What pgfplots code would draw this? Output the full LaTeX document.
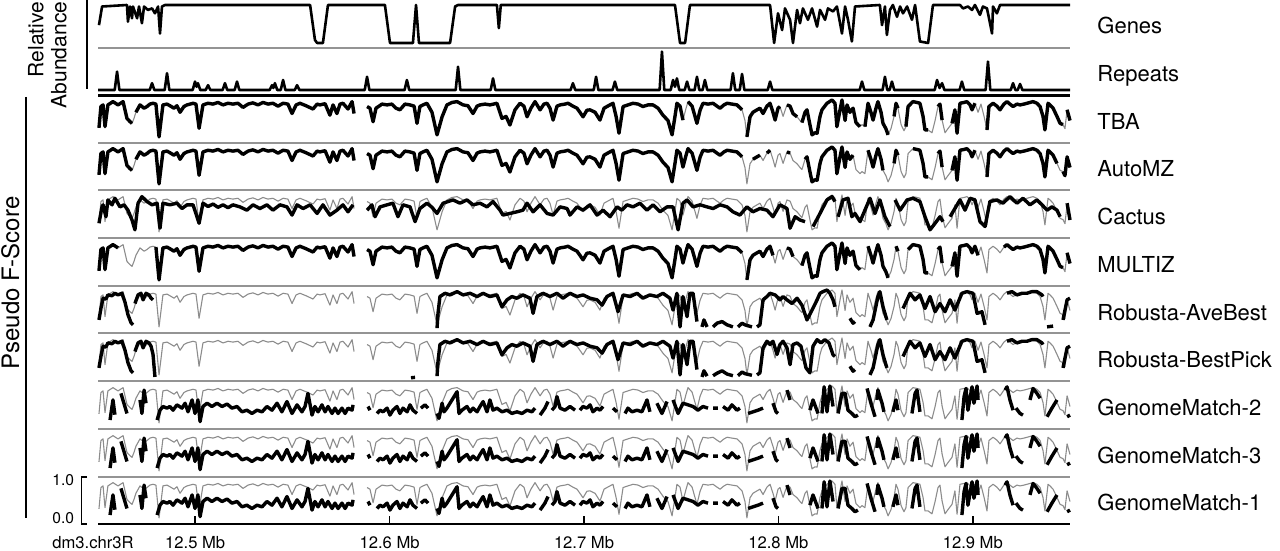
\documentclass[border=0pt]{standalone}
\usepackage{fontspec}
\setmainfont{TeX Gyre Heros}
\usepackage{pgfplots}
\usepackage{pgfplotstable}
\pgfplotsset{compat=1.18}
\definecolor{sepc}{gray}{0.58}
\definecolor{grl}{gray}{0.55}
\pgfplotsset{
  trk/.style={anchor=south west, width=486pt, scale only axis,
    xmin=0, xmax=500, ymin=0, ymax=1, hide axis, clip=false,
    unbounded coords=jump},
  keep/.style={restrict expr to domain={\thisrow{#1}}{0.5:1.5}},
  grayline/.style={grl, line width=0.55pt, line join=round},
  blackline/.style={black, line width=1.7pt, line join=round},
}
% Genes (relative abundance), x in kb from 12.45 Mb
\pgfplotstableread{
x v
0.5 0.47
2.1 0.96
14.9 1.00
15.4 0.56
16.5 0.96
17.5 0.65
18.0 0.96
20.1 0.65
21.1 0.96
22.6 0.52
23.7 0.96
25.7 0.87
27.8 0.91
29.3 0.78
30.9 0.96
31.9 0.25
32.9 0.96
34.5 1.00
109.1 1.00
111.6 0.08
112.7 0.00
115.7 0.00
118.3 1.00
147.6 1.00
150.2 0.00
162.0 0.00
163.6 1.00
165.1 0.00
181.1 0.00
183.7 0.96
185.2 1.00
205.2 1.00
206.2 0.39
207.2 1.00
296.8 1.00
299.4 0.00
302.0 0.00
304.5 1.00
345.7 1.00
347.8 0.00
349.8 0.78
351.9 0.34
353.4 0.91
356.0 0.61
357.5 0.00
359.6 0.87
361.1 0.52
362.6 0.91
365.2 0.61
367.3 0.91
369.9 0.43
371.4 0.87
374.0 0.61
375.5 0.91
378.1 0.83
380.1 0.96
382.7 0.25
384.3 0.96
385.8 0.61
387.8 0.04
389.4 0.96
402.2 1.00
403.3 0.47
404.8 0.96
405.8 0.21
407.4 0.87
408.9 1.00
411.0 0.69
412.6 0.96
414.1 0.78
416.2 0.96
418.7 0.61
420.3 1.00
422.8 0.04
427.0 0.00
429.5 1.00
443.4 1.00
445.0 0.91
447.5 0.96
449.6 0.87
451.1 1.00
453.7 0.74
455.2 0.96
457.3 0.91
459.9 0.25
460.4 0.96
462.4 0.78
464.0 1.00
500.0 1.00
}\genes
% Repeats
\pgfplotstableread{
x v
0 0
8.6 0
9.8 0.46
11.0 0
26.6 0
27.8 0.17
29.0 0
34.3 0
35.5 0.42
36.7 0
48.7 0
49.9 0.21
50.7 0.08
51.4 0.17
52.6 0
55.4 0
56.6 0.12
57.8 0
64.1 0
65.3 0.17
66.5 0
70.3 0
71.5 0.21
72.7 0
88.3 0
89.5 0.12
90.2 0.05
91.0 0.17
92.2 0
94.0 0
95.2 0.25
96.4 0
101.2 0
102.4 0.12
103.6 0
137.2 0
138.4 0.33
139.6 0
157.7 0
158.9 0.25
160.1 0
184.0 0
185.2 0.58
186.4 0
202.0 0
203.2 0.29
204.4 0
243.1 0
244.3 0.17
245.5 0
255.0 0
256.2 0.33
257.4 0
264.7 0
265.9 0.21
267.1 0
288.9 0
290.1 0.96
291.3 0
294.6 0
295.8 0.25
296.8 0.08
297.8 0.29
299.0 0
301.8 0
303.0 0.21
304.2 0
306.9 0
308.1 0.33
309.3 0
311.0 0
312.2 0.25
313.4 0
325.4 0
326.6 0.42
327.8 0
330.1 0
331.3 0.40
332.5 0
344.5 0
345.7 0.21
346.9 0
391.8 0
393.0 0.21
394.2 0
403.6 0
404.8 0.33
406.0 0
407.2 0
408.4 0.21
409.6 0
430.4 0
431.6 0.25
432.9 0.05
434.2 0.17
435.4 0
443.2 0
444.4 0.21
445.6 0
456.6 0
457.8 0.71
459.0 0
469.5 0
470.7 0.17
471.9 0
473.1 0
474.3 0.15
475.5 0
500 0
}\repeats
% Common grey reference F-score; t,a,m = present in TBA, AutoMZ, MULTIZ
\pgfplotstableread{
x g t a m
0.5 0.32 1 1 1
1.5 0.84 1 1 1
2.6 0.88 1 1 1
3.6 0.35 1 1 1
5.1 0.88 1 1 1
7.7 0.96 1 1 1
10.3 0.88 1 1 1
12.9 0.96 1 1 0
14.9 0.55 1 1 0
16.5 0.47 1 1 0
17.5 0.43 1 1 0
18.5 0.55 0 0 0
19.5 0.70 1 1 0
21.6 0.88 1 1 0
23.7 0.80 1 1 0
25.2 0.84 1 1 0
26.7 0.90 1 1 0
28.3 0.92 1 1 0
29.8 0.90 1 1 1
31.4 0.10 1 1 1
33.4 0.88 1 1 1
35.5 0.90 1 1 1
37.0 0.86 1 1 1
39.1 0.80 1 1 1
40.6 0.86 1 1 1
42.2 0.70 1 1 1
44.2 0.84 1 1 1
45.8 0.88 1 1 1
48.9 0.92 1 1 1
50.4 0.90 1 1 1
52.0 0.31 1 1 1
54.0 0.88 1 1 1
56.6 0.92 1 1 1
59.2 0.90 1 1 1
61.7 0.94 1 1 1
64.3 0.88 1 1 1
66.9 0.92 1 1 1
69.4 0.90 1 1 1
72.0 0.92 1 1 1
74.6 0.82 1 1 1
77.2 0.90 1 1 1
79.7 0.93 1 1 1
82.3 0.88 1 1 1
84.9 0.94 1 1 1
87.4 0.90 1 1 1
90.0 0.92 1 1 1
92.6 0.85 1 1 1
95.2 0.92 1 1 1
97.7 0.90 1 1 1
99.8 0.67 1 1 1
101.9 0.88 1 1 1
103.9 0.92 1 1 1
107.0 0.86 1 1 1
110.6 0.78 1 1 1
112.7 0.90 1 1 1
114.2 0.88 1 1 1
116.8 0.91 1 1 1
119.3 0.63 1 1 1
120.9 0.88 1 1 1
122.9 0.67 1 1 1
124.5 0.90 1 1 1
126.0 0.92 1 1 1
128.6 0.78 1 1 1
130.7 0.96 1 1 1
131.7 0.67 1 1 1
135.0 nan 1 1 1
138.4 0.84 1 1 1
139.9 0.80 1 1 1
141.5 0.47 1 1 1
143.0 0.80 1 1 1
146.1 0.90 1 1 1
148.7 0.88 1 1 1
151.2 0.90 1 1 1
153.3 0.80 1 1 1
155.3 0.76 1 1 1
157.9 0.90 1 1 1
160.5 0.88 1 1 1
162.6 0.85 1 1 1
164.1 0.43 1 1 1
165.6 0.84 1 1 1
167.2 0.88 1 1 1
169.2 0.92 1 1 1
171.8 0.70 1 1 1
174.4 0.15 1 1 1
177.0 0.59 1 1 1
179.5 0.88 1 1 1
182.1 0.94 1 1 1
184.7 0.96 1 1 1
187.8 0.88 1 1 1
190.3 0.86 1 1 1
192.9 0.67 1 1 1
195.0 0.85 1 1 1
196.5 0.88 1 1 1
199.1 0.90 1 1 1
201.6 0.88 1 1 1
205.2 0.92 1 1 1
207.8 0.55 1 1 1
209.9 0.60 1 1 1
211.9 0.39 1 1 1
214.5 0.76 1 1 1
217.1 0.92 1 1 1
219.1 0.85 1 1 1
220.7 0.59 1 1 1
222.7 0.80 1 1 1
224.8 0.96 1 1 1
227.4 0.76 1 1 1
229.4 0.90 1 1 1
231.0 0.92 1 1 1
232.5 0.80 1 1 1
234.1 0.51 1 1 1
236.1 0.85 1 1 1
237.7 0.88 1 1 1
240.2 0.90 1 1 1
241.8 0.92 1 1 1
244.3 0.85 1 1 1
246.4 0.80 1 1 1
247.9 0.70 1 1 1
249.5 0.59 1 1 1
251.5 0.75 1 1 1
253.1 0.76 1 1 1
255.7 0.70 1 1 1
258.2 0.51 1 1 1
260.3 0.80 1 1 1
261.8 0.84 1 1 1
264.9 0.92 1 1 1
266.5 0.60 1 1 1
268.0 0.19 1 1 1
270.1 0.84 1 1 1
272.6 0.88 1 1 1
275.2 0.92 1 1 1
277.8 0.90 1 1 1
280.3 0.84 1 1 1
282.9 0.88 1 1 1
285.5 0.88 1 1 1
288.1 0.80 1 1 1
290.6 0.63 1 1 1
293.2 0.50 1 1 1
295.3 0.15 1 1 1
296.8 0.60 1 1 1
297.8 0.92 1 1 1
299.4 0.85 1 1 1
300.9 0.51 1 1 1
302.5 0.80 0 1 1
303.5 0.96 1 1 1
305.6 0.85 1 1 1
308.1 0.43 1 1 1
309.7 0.75 1 1 1
311.2 0.92 1 1 1
313.8 0.90 1 1 1
316.4 0.92 1 1 1
318.4 0.85 1 1 1
320.0 0.80 1 1 1
322.0 0.88 1 1 1
323.6 0.92 1 1 1
326.1 0.90 1 1 1
328.7 0.88 1 1 1
331.3 0.76 1 1 1
332.8 0.50 0 0 0
333.8 0.10 1 0 1
335.4 0.59 1 0 1
336.9 0.70 1 1 1
339.0 0.76 1 1 1
340.5 0.80 1 1 1
342.1 0.67 1 0 1
344.1 0.85 1 1 1
345.7 0.92 1 1 1
347.2 0.70 1 0 1
348.3 0.51 1 0 0
349.8 0.80 1 0 0
350.8 0.84 1 0 0
352.4 0.60 0 0 0
354.4 0.88 1 1 1
356.0 0.85 1 1 1
357.5 0.67 1 0 1
359.6 0.59 1 0 0
361.1 0.50 0 0 0
362.1 0.45 1 0 1
363.7 0.70 1 1 1
364.7 0.76 1 1 1
366.2 0.40 1 1 1
367.3 0.15 1 1 1
368.8 0.20 1 1 1
369.9 0.19 1 1 1
371.4 0.60 1 1 1
372.4 0.76 1 1 1
375.0 0.92 1 1 1
377.6 1.00 1 1 1
379.1 0.92 1 1 1
380.1 0.35 1 1 1
381.7 0.76 1 1 1
382.7 1.00 1 1 1
384.3 0.50 1 1 1
385.3 0.88 1 1 1
386.8 0.70 1 1 1
388.4 0.80 1 1 1
389.9 0.45 1 0 1
390.9 0.40 1 0 1
392.0 0.35 1 0 1
393.0 0.40 0 0 0
394.5 0.35 1 0 0
396.1 0.92 1 1 1
397.6 0.70 1 1 1
398.7 0.51 1 1 1
400.2 0.80 1 1 1
401.2 0.96 1 1 1
402.8 0.70 1 1 1
403.8 0.43 1 1 1
405.3 0.30 1 0 1
406.4 0.15 1 0 1
407.9 0.30 0 0 0
409.5 0.60 1 1 0
410.5 0.92 1 1 1
411.5 0.80 1 1 1
413.1 0.40 0 0 0
414.6 0.25 0 0 0
415.6 0.35 1 0 0
416.7 0.84 1 0 1
419.2 0.96 1 1 1
421.3 0.94 1 1 1
422.8 0.92 1 1 1
424.4 0.60 1 1 1
425.4 0.27 1 1 1
427.0 0.27 1 1 1
429.0 0.20 0 0 0
430.6 0.50 0 0 0
432.1 0.84 1 1 1
433.1 0.90 1 1 1
434.2 0.51 1 1 1
435.7 0.20 0 0 0
437.2 0.30 0 0 0
439.3 0.43 1 1 1
440.8 0.76 1 1 1
441.9 0.19 1 1 1
443.4 0.92 1 1 1
445.5 0.94 1 1 1
447.0 0.96 1 1 1
448.6 0.88 1 1 1
449.6 0.76 1 1 1
451.1 0.92 1 1 1
452.7 0.70 0 0 1
454.2 0.90 0 0 0
455.8 0.60 0 0 0
457.3 0.27 1 1 0
458.3 0.84 1 1 0
460.4 0.92 1 1 0
462.4 0.85 1 1 0
464.0 0.76 1 1 0
466.0 0.90 1 1 1
467.6 0.96 1 1 1
469.1 0.90 1 1 1
470.7 0.84 1 1 1
472.7 0.90 1 1 1
474.3 0.88 1 1 1
476.3 0.90 1 1 1
477.9 0.92 1 1 1
479.4 0.94 1 1 1
481.0 0.96 1 1 1
483.0 0.92 1 1 1
484.6 0.84 1 1 1
486.1 0.60 1 1 1
487.1 0.27 1 1 1
488.7 0.92 1 1 1
489.7 0.88 1 1 1
491.3 0.80 1 1 1
493.3 0.60 1 1 1
494.9 0.43 1 0 1
496.4 0.40 1 1 1
497.4 0.30 0 1 0
498.5 0.76 1 1 1
500.0 0.50 1 1 1
}\G
% Cactus
\pgfplotstableread{
x v
0.5 0.31
2.1 0.72
2.6 0.76
4.1 0.47
5.1 0.88
7.2 0.76
8.7 0.92
11.3 0.71
13.4 0.76
15.4 0.63
17.5 0.39
19.0 0.15
20.6 0.80
22.6 0.96
25.2 0.84
27.8 0.76
30.4 0.80
31.9 0.19
33.4 0.80
37.0 0.76
40.6 0.80
43.2 0.67
45.8 0.76
48.9 0.76
52.0 0.31
54.0 0.80
56.6 0.72
59.2 0.78
61.7 0.70
64.3 0.76
66.9 0.69
69.4 0.76
73.0 0.71
76.6 0.63
79.7 0.76
83.3 0.67
86.9 0.76
90.0 0.63
93.6 0.76
97.2 0.71
99.8 0.51
102.4 0.76
105.5 0.67
109.1 0.76
112.7 0.55
115.7 0.76
119.3 0.51
122.9 0.63
126.0 0.76
128.6 0.59
131.2 0.76
135.0 nan
138.4 0.63
140.9 0.76
142.5 0.47
145.1 0.71
148.7 0.76
151.7 0.80
154.3 0.47
156.9 0.76
160.5 0.71
163.1 0.35
165.6 0.67
169.2 0.80
171.8 0.70
174.4 0.55
177.5 0.80
182.6 0.88
186.2 0.80
189.8 0.88
192.9 0.76
196.5 0.80
200.1 0.71
203.2 0.84
206.8 0.63
208.3 0.51
211.9 0.55
215.5 0.59
218.6 0.63
220.7 0.80
223.8 0.59
227.4 0.76
231.0 0.55
234.1 0.51
237.7 0.71
241.3 0.67
242.8 0.51
246.4 0.71
249.5 0.63
253.1 0.76
256.7 0.51
259.8 0.63
263.4 0.47
267.0 0.71
269.5 0.63
272.1 0.76
275.2 0.71
278.8 0.80
282.4 0.63
285.5 0.76
289.1 0.59
292.7 0.71
295.8 0.71
298.4 0.15
300.9 0.80
303.0 0.88
306.1 0.71
309.7 0.76
313.3 0.71
316.4 0.67
320.0 0.76
323.6 0.71
326.6 0.59
330.2 0.51
333.8 0.71
336.9 0.59
340.5 0.67
344.1 0.63
347.2 0.47
350.8 0.76
354.4 0.67
356.0 0.19
358.6 0.47
361.1 0.39
363.7 0.35
365.5 nan
367.8 0.23
371.4 0.55
375.0 0.88
377.6 0.96
379.1 0.84
379.9 nan
380.7 0.47
383.2 0.88
385.8 0.92
387.8 0.47
389.4 0.55
392.0 0.35
394.5 0.63
397.1 0.92
399.7 0.55
402.2 0.88
404.8 0.47
407.4 0.23
408.7 nan
410.0 0.88
412.6 0.63
416.2 0.88
419.2 0.92
422.8 0.84
425.4 0.47
428.0 0.15
430.6 0.31
433.1 0.47
434.7 0.35
436.5 nan
438.3 0.47
440.8 0.67
443.4 0.88
446.0 0.63
448.6 0.92
451.1 0.88
453.7 0.35
456.3 0.23
458.8 0.84
462.4 0.88
465.5 0.80
469.1 0.96
472.7 0.80
475.8 0.92
479.4 0.76
483.0 0.88
485.6 0.76
488.2 0.63
490.7 0.71
493.3 0.63
494.9 0.47
496.5 nan
498.5 0.80
500.0 0.39
}\cactus
% Robusta-AveBest
\pgfplotstableread{
x v
0.5 0.27
1.5 0.55
2.6 0.80
4.1 0.78
5.1 0.88
7.2 0.86
8.7 0.92
10.3 0.88
12.3 0.92
13.9 0.70
15.4 0.40
17.0 0.20
18.0 0.15
18.5 nan
19.0 0.67
20.6 0.88
22.1 0.92
23.2 0.76
24.7 0.92
26.2 0.88
27.3 0.80
28.3 0.76
30.0 nan
174.4 0.07
174.9 0.43
175.9 0.84
178.5 0.92
181.1 0.88
184.7 0.96
187.8 0.88
191.4 0.92
195.0 0.84
198.1 0.92
201.6 0.84
205.2 0.88
207.8 0.59
210.4 0.76
212.9 0.84
215.5 0.80
218.6 0.88
222.2 0.80
223.8 0.43
225.8 0.84
228.9 0.92
232.5 0.84
236.1 0.92
239.2 0.80
242.8 0.92
246.4 0.84
249.5 0.88
253.1 0.80
256.7 0.76
259.3 0.63
261.8 0.84
264.9 0.92
267.5 0.47
270.1 0.88
273.7 0.84
277.3 0.92
280.3 0.80
283.9 0.88
287.5 0.84
290.6 0.92
294.2 0.80
295.8 0.51
297.8 0.92
299.4 0.10
300.9 0.84
303.0 0.35
304.5 0.92
306.1 0.92
308.1 0.23
309.5 nan
310.7 0.10
311.7 0.27
313.3 0.10
315.0 nan
316.4 0.10
318.4 0.19
321.0 0.23
323.6 0.15
326.6 0.10
328.0 nan
329.2 0.10
331.3 0.19
332.8 0.15
336.4 0.10
337.5 nan
339.0 0.10
340.5 0.15
342.1 0.76
344.1 0.84
345.7 0.92
348.3 0.88
350.8 0.76
352.4 0.84
354.4 0.76
357.0 0.67
359.6 0.80
362.1 0.63
364.7 0.27
367.3 0.51
369.9 0.76
371.4 0.92
372.9 0.96
375.0 1.00
376.5 0.92
378.1 0.76
379.1 0.59
383.0 nan
386.8 0.31
388.4 0.19
389.4 0.23
393.0 nan
397.1 0.10
398.7 0.27
401.2 0.84
402.2 0.96
403.8 0.59
405.8 0.27
410.0 nan
414.1 0.55
417.7 0.92
420.3 0.76
422.8 0.88
425.4 0.55
428.0 0.84
430.6 0.47
433.1 0.67
435.7 0.47
438.3 0.76
440.8 0.51
444.4 0.92
447.0 0.96
450.1 0.92
452.2 0.43
454.7 0.47
456.3 0.15
460.0 nan
467.6 0.92
470.1 0.96
472.7 0.88
475.3 0.92
477.9 0.92
480.4 0.96
483.0 0.96
485.6 0.88
486.1 0.84
487.0 nan
488.2 0.10
491.3 0.12
494.0 nan
496.4 0.27
498.5 0.76
500.0 0.80
}\rab
% Robusta-BestPick
\pgfplotstableread{
x v
0.5 0.27
1.5 0.55
2.6 0.80
4.1 0.78
5.1 0.88
7.2 0.86
8.7 0.92
10.3 0.88
12.3 0.92
13.9 0.70
15.4 0.40
17.0 0.20
18.0 0.15
18.5 nan
19.0 0.67
20.6 0.88
22.1 0.92
23.2 0.76
24.7 0.92
26.2 0.88
27.3 0.80
28.3 0.60
29.3 0.05
30.0 nan
161.0 0.03
163.1 0.04
170.0 nan
174.4 0.07
174.9 0.43
175.9 0.84
178.5 0.92
181.1 0.88
184.7 0.96
187.8 0.88
191.4 0.92
195.0 0.84
198.1 0.92
201.6 0.84
205.2 0.88
207.8 0.59
210.4 0.76
212.9 0.84
215.5 0.80
218.6 0.88
222.2 0.80
223.8 0.43
225.8 0.84
228.9 0.92
232.5 0.84
236.1 0.92
239.2 0.80
242.8 0.92
246.4 0.84
249.5 0.88
253.1 0.80
256.7 0.76
259.3 0.63
261.8 0.84
264.9 0.92
267.5 0.47
270.1 0.88
273.7 0.84
277.3 0.92
280.3 0.80
283.9 0.88
287.5 0.84
290.6 0.92
294.2 0.80
295.8 0.51
297.8 0.92
299.4 0.10
300.9 0.84
303.0 0.35
304.5 0.92
306.1 0.92
308.1 0.23
309.5 nan
310.7 0.05
311.7 0.20
313.3 0.07
315.0 nan
316.4 0.08
318.4 0.14
321.0 0.20
323.6 0.12
326.6 0.08
328.0 nan
329.2 0.08
331.3 0.17
332.8 0.13
336.4 0.09
337.5 nan
339.0 0.10
340.5 0.15
342.1 0.76
344.1 0.92
345.7 0.84
347.2 0.92
349.3 0.60
350.8 0.84
352.4 0.92
354.4 0.76
356.0 0.35
357.5 0.84
359.6 0.88
361.6 0.80
364.2 0.27
366.2 0.15
367.8 0.80
369.9 0.96
371.9 0.88
373.9 0.96
376.0 0.88
378.1 0.59
379.1 0.55
383.0 nan
386.8 0.31
388.4 0.19
389.4 0.23
393.0 nan
397.1 0.10
398.7 0.27
401.2 0.84
402.2 0.96
403.8 0.59
405.8 0.27
410.0 nan
414.1 0.55
417.7 0.92
420.3 0.76
422.8 0.88
425.4 0.55
428.0 0.84
430.6 0.47
433.1 0.67
435.7 0.47
438.3 0.76
440.8 0.51
444.4 0.92
447.0 0.96
450.1 0.92
452.2 0.43
454.7 0.47
456.3 0.15
460.0 nan
467.6 0.92
470.1 0.96
472.7 0.88
475.3 0.92
477.9 0.92
480.4 0.96
483.0 0.96
485.6 0.88
486.1 0.84
490.0 nan
496.4 0.27
498.5 0.76
500.0 0.80
}\rbp
% GenomeMatch
\pgfplotstableread{
x v
6.2 0.17
7.2 0.50
7.7 0.66
8.7 0.30
10.0 nan
11.8 0.82
14.9 0.33
18.0 nan
21.6 0.66
22.6 0.33
23.7 0.90
24.7 0.58
27.0 nan
30.4 0.17
31.9 0.41
33.4 0.50
35.5 0.46
37.0 0.50
38.6 0.41
40.6 0.54
43.2 0.46
44.8 0.58
46.3 0.37
48.4 0.66
49.9 0.33
51.4 0.66
52.5 0.13
54.0 0.50
56.1 0.58
58.6 0.50
61.2 0.58
63.8 0.50
66.4 0.56
68.9 0.46
71.5 0.50
74.1 0.37
76.6 0.41
79.2 0.33
81.8 0.41
84.4 0.37
86.9 0.50
89.5 0.41
92.1 0.58
94.6 0.37
97.2 0.62
99.8 0.33
102.4 0.54
104.9 0.37
106.5 0.50
108.0 0.82
110.1 0.29
111.6 0.50
113.2 0.37
115.2 0.54
116.8 0.37
118.3 0.50
120.4 0.33
121.9 0.46
123.5 0.33
125.5 0.46
127.1 0.33
128.6 0.46
130.7 0.41
131.2 0.54
135.0 nan
138.9 0.50
139.9 0.41
141.5 nan
143.5 0.33
145.1 0.41
146.6 0.37
148.7 0.46
150.2 0.29
151.7 0.41
153.8 0.50
155.3 0.33
156.9 0.46
159.0 0.37
160.5 0.54
162.0 0.41
164.1 0.33
165.0 nan
166.1 0.46
168.2 0.54
169.8 0.46
172.0 nan
174.4 0.33
175.4 0.21
177.0 0.58
178.0 0.37
179.5 0.46
182.1 0.66
184.7 0.86
185.7 0.33
187.2 0.41
189.8 0.50
191.4 0.37
192.9 0.46
195.0 0.37
196.5 0.50
198.1 0.62
200.1 0.37
201.6 0.66
203.2 0.41
205.2 0.46
207.8 0.37
210.4 0.41
212.9 0.33
215.5 0.37
218.1 0.33
220.7 0.41
223.2 0.37
224.8 0.46
226.0 nan
227.4 0.29
229.9 0.46
231.5 0.62
232.5 nan
233.5 0.41
235.1 0.50
236.1 0.74
237.7 0.46
240.2 0.41
242.8 0.50
245.4 0.41
246.5 nan
247.9 0.41
249.5 0.50
251.5 0.46
253.1 0.54
254.6 0.37
256.7 0.46
258.2 0.41
259.8 0.50
262.0 nan
264.9 0.46
267.0 0.37
269.0 nan
271.1 0.33
272.6 0.46
274.7 0.37
277.3 0.41
279.8 0.37
282.4 0.66
283.9 0.37
285.5 nan
287.5 0.58
290.1 0.33
292.7 0.62
294.2 nan
295.8 0.66
298.4 0.33
300.9 0.58
303.5 0.54
306.1 0.50
308.6 0.41
311.2 0.50
313.8 0.46
315.0 nan
316.4 0.46
318.9 0.46
320.0 nan
321.5 0.50
324.1 0.41
326.1 0.54
328.7 0.41
330.2 0.46
332.0 nan
334.4 0.33
336.9 0.37
339.5 0.41
342.1 0.46
344.5 nan
347.2 0.58
348.8 0.37
349.8 0.33
352.0 nan
354.4 0.90
356.0 0.66
360.0 nan
366.2 0.41
367.8 0.66
370.4 0.33
371.4 nan
372.4 0.33
373.5 0.98
375.0 0.37
376.5 1.00
378.1 0.50
379.5 nan
380.7 0.33
382.7 0.82
384.3 0.82
385.8 0.41
387.8 0.33
389.4 0.25
390.9 0.29
393.0 nan
395.6 0.94
397.6 0.58
399.7 0.25
400.2 nan
400.7 0.66
401.2 0.90
403.3 0.58
404.3 0.37
406.0 nan
408.9 0.37
410.5 0.66
411.5 0.41
415.0 nan
418.7 0.33
420.3 0.82
421.3 0.90
422.8 0.37
430.0 nan
444.4 0.17
445.5 0.74
446.5 0.94
447.5 0.41
449.6 0.98
450.6 0.58
452.2 1.00
452.7 0.66
460.0 nan
466.6 0.90
467.6 0.98
469.1 0.66
470.7 0.41
471.5 nan
472.2 0.46
474.3 0.33
475.8 0.29
477.0 nan
479.4 0.66
481.0 0.94
483.0 0.82
484.6 0.70
486.0 nan
488.2 0.25
490.7 0.46
493.3 0.66
495.0 nan
498.5 0.25
500.0 0.29
}\gm
\begin{document}
\begin{tikzpicture}[x=1pt,y=1pt]
\useasboundingbox (0,0) rectangle (640,275.5);
% separators
\foreach \yy in {251.5,204,180.5,156.5,132.5,109,85,61,37}
  \draw[sepc, line width=0.9pt] (49,\yy) -- (535,\yy);
\draw[black, line width=1.5pt] (49,227.5) -- (535,227.5);
\draw[black, line width=1pt] (49,13.5) -- (535,13.5);
% Genes
\begin{axis}[trk, height=19pt, at={(49pt,254pt)}]
\addplot[black, line width=1.3pt, line join=round] table[x=x,y=v]{\genes};
\end{axis}
% Repeats
\begin{axis}[trk, height=20pt, at={(49pt,230.5pt)}]
\addplot[black, line width=1.3pt, line join=round] table[x=x,y=v]{\repeats};
\end{axis}
% TBA
\begin{axis}[trk, height=20.5pt, at={(49pt,205pt)}]
\addplot[grayline] table[x=x,y=g]{\G};
\addplot[blackline, keep=t] table[x=x,y=g]{\G};
\end{axis}
% AutoMZ
\begin{axis}[trk, height=20.5pt, at={(49pt,181.5pt)}]
\addplot[grayline] table[x=x,y=g]{\G};
\addplot[blackline, keep=a] table[x=x,y=g]{\G};
\end{axis}
% Cactus
\begin{axis}[trk, height=20.5pt, at={(49pt,157.5pt)}]
\addplot[grayline] table[x=x,y=g]{\G};
\addplot[blackline] table[x=x,y=v]{\cactus};
\end{axis}
% MULTIZ
\begin{axis}[trk, height=20.5pt, at={(49pt,133.5pt)}]
\addplot[grayline] table[x=x,y=g]{\G};
\addplot[blackline, keep=m] table[x=x,y=g]{\G};
\end{axis}
% Robusta-AveBest
\begin{axis}[trk, height=20.5pt, at={(49pt,110pt)}]
\addplot[grayline] table[x=x,y=g]{\G};
\addplot[blackline] table[x=x,y=v]{\rab};
\end{axis}
% Robusta-BestPick
\begin{axis}[trk, height=20.5pt, at={(49pt,86pt)}]
\addplot[grayline] table[x=x,y=g]{\G};
\addplot[blackline] table[x=x,y=v]{\rbp};
\end{axis}
% GenomeMatch-2
\begin{axis}[trk, height=20.5pt, at={(49pt,62pt)}]
\addplot[grayline] table[x=x,y=g]{\G};
\addplot[blackline] table[x=x,y=v]{\gm};
\end{axis}
% GenomeMatch-3
\begin{axis}[trk, height=20.5pt, at={(49pt,38pt)}]
\addplot[grayline] table[x=x,y=g]{\G};
\addplot[blackline] table[x=x,y=v]{\gm};
\end{axis}
% GenomeMatch-1
\begin{axis}[trk, height=20.5pt, at={(49pt,14.5pt)}]
\addplot[grayline] table[x=x,y=g]{\G};
\addplot[blackline] table[x=x,y=v]{\gm};
\end{axis}
% x ticks
\foreach \xx/\lab in {97.6/12.5 Mb,194.8/12.6 Mb,292.0/12.7 Mb,389.2/12.8 Mb,486.4/12.9 Mb}{
  \draw[black, line width=0.8pt] (\xx,13.5) -- (\xx,17.5);
  \node[anchor=base, font=\fontsize{8.3}{9}\selectfont, inner sep=0pt] at (\xx,1) {\lab};
}
\node[anchor=base west, font=\fontsize{8.3}{9}\selectfont, inner sep=0pt] at (26,1) {dm3.chr3R};
% scale bar
\node[anchor=base west, font=\fontsize{7.8}{9}\selectfont, inner sep=0pt] at (26,32.5) {1.0};
\node[anchor=base west, font=\fontsize{7.8}{9}\selectfont, inner sep=0pt] at (26,13.5) {0.0};
\draw[black, line width=0.75pt] (43.5,37) -- (40.8,37) -- (40.8,13.5) -- (43.5,13.5);
% left brackets and titles
\draw[black, line width=0.8pt] (43.5,275.5) -- (43.5,231);
\draw[black, line width=0.8pt] (13,227) -- (13,16.5);
\node[rotate=90, align=right, font=\fontsize{10.5}{11.5}\selectfont, inner sep=0pt] at (23.75,248) {Relative\\Abundance};
\node[rotate=90, font=\fontsize{12}{14}\selectfont, inner sep=0pt] at (5.2,134) {Pseudo F-Score};
% right labels
\foreach \yy/\lab in {258.5/Genes,234.5/Repeats,210.5/TBA,187/AutoMZ,163/Cactus,139/MULTIZ,115.25/Robusta-AveBest,91.5/Robusta-BestPick,67.5/GenomeMatch-2,43.75/GenomeMatch-3,20/GenomeMatch-1}
  \node[anchor=base west, font=\fontsize{11}{13}\selectfont, inner sep=0pt] at (548.5,\yy) {\lab};
\end{tikzpicture}
\end{document}
